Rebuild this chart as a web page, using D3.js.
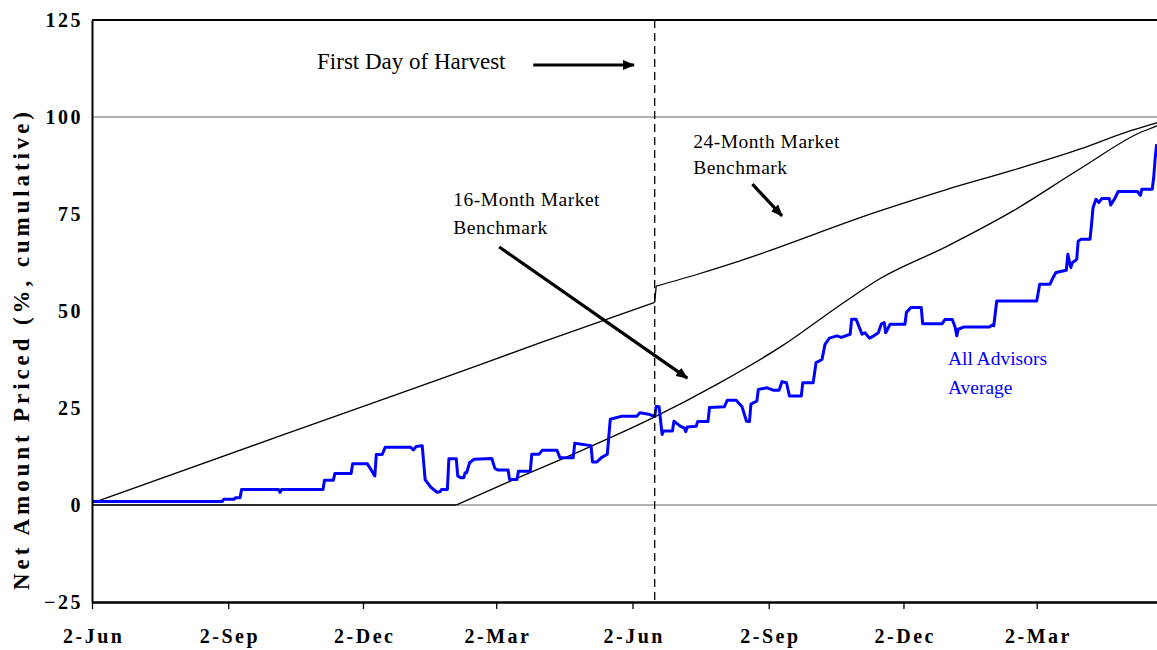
<!DOCTYPE html>
<html><head><meta charset="utf-8">
<script src="https://cdn.jsdelivr.net/npm/d3@7"></script>
<style>
body{margin:0;background:#fff;}
svg{display:block;}
</style></head><body>
<svg id="chart" width="1157" height="650"></svg>
<script>
// ---------- data ----------
const yTicks = [-25, 0, 25, 50, 75, 100, 125];
const gridValues = [0, 100];
const xTickDates = ["2001-06-02","2001-09-02","2001-12-02","2002-03-02","2002-06-02","2002-09-02","2002-12-02","2003-03-02"];
const xTickLabels = ["2-Jun","2-Sep","2-Dec","2-Mar","2-Jun","2-Sep","2-Dec","2-Mar"];
const harvestDate = "2002-06-17";

const advisorDates = ["2001-06-02","2001-08-29","2001-08-30","2001-09-06","2001-09-07","2001-09-10","2001-09-11","2001-10-06","2001-10-07","2001-10-08",
"2001-11-05","2001-11-06","2001-11-12","2001-11-13","2001-11-24","2001-11-25","2001-12-05","2001-12-10","2001-12-11","2001-12-15",
"2001-12-17","2002-01-03","2002-01-05","2002-01-07","2002-01-11","2002-01-13","2002-01-15","2002-01-17","2002-01-21","2002-01-23",
"2002-01-24","2002-01-28","2002-01-29","2002-02-03","2002-02-04","2002-02-06","2002-02-08","2002-02-09","2002-02-10","2002-02-12",
"2002-02-15","2002-02-27","2002-03-01","2002-03-03","2002-03-10","2002-03-11","2002-03-16","2002-03-17","2002-03-25","2002-03-26",
"2002-03-31","2002-04-02","2002-04-12","2002-04-14","2002-04-23","2002-04-24","2002-05-05","2002-05-06","2002-05-09","2002-05-12",
"2002-05-16","2002-05-18","2002-05-26","2002-06-05","2002-06-07","2002-06-13","2002-06-17","2002-06-18","2002-06-20","2002-06-22",
"2002-06-23","2002-06-29","2002-06-30","2002-07-04","2002-07-07","2002-07-08","2002-07-09","2002-07-15","2002-07-16","2002-07-23",
"2002-07-24","2002-08-03","2002-08-05","2002-08-11","2002-08-15","2002-08-18","2002-08-20","2002-08-21","2002-08-25","2002-08-26",
"2002-09-01","2002-09-05","2002-09-09","2002-09-11","2002-09-14","2002-09-16","2002-09-24","2002-09-25","2002-10-02","2002-10-04",
"2002-10-08","2002-10-10","2002-10-13","2002-10-18","2002-10-21","2002-10-27","2002-10-28","2002-10-31","2002-11-04","2002-11-06",
"2002-11-09","2002-11-12","2002-11-15","2002-11-17","2002-11-19","2002-11-20","2002-11-23","2002-12-03","2002-12-04","2002-12-07",
"2002-12-14","2002-12-15","2002-12-28","2002-12-30","2003-01-04","2003-01-06","2003-01-07","2003-01-08","2003-01-12","2003-01-29",
"2003-01-31","2003-02-01","2003-02-03","2003-03-02","2003-03-04","2003-03-11","2003-03-13","2003-03-15","2003-03-22","2003-03-23",
"2003-03-25","2003-03-26","2003-03-29","2003-03-30","2003-04-01","2003-04-07","2003-04-08","2003-04-09","2003-04-11","2003-04-13",
"2003-04-15","2003-04-20","2003-04-21","2003-04-24","2003-04-26","2003-05-09","2003-05-11","2003-05-12","2003-05-19","2003-05-20",
"2003-05-21","2003-05-22"];
const advisorValues = [0.9,0.9,1.5,1.5,1.9,1.9,4.0,4.0,3.3,4.0,
4.0,6.4,6.4,8.1,8.1,10.6,10.6,7.5,13.0,13.0,
14.9,14.9,14.2,15.1,15.3,6.5,5.5,4.5,3.3,3.4,
4.0,4.0,11.9,11.9,7.5,7.0,7.0,8.3,8.3,10.9,
11.8,12.0,9.5,9.0,9.0,6.6,6.6,8.7,8.7,13.1,
13.1,14.1,14.1,12.2,12.2,15.9,15.3,11.1,11.1,12.2,
13.1,22.1,22.9,22.9,23.8,23.4,22.8,25.4,25.3,18.2,
19.1,19.1,21.6,20.4,19.8,18.9,20.1,20.3,21.5,21.5,
25.1,25.3,27.0,27.0,25.3,21.6,21.5,26.0,26.8,29.8,
30.2,29.6,29.6,31.8,31.5,28.1,28.1,31.5,31.5,36.7,
37.5,41.4,43.0,43.6,43.2,44.0,47.9,47.9,44.0,44.4,
43.0,43.6,44.4,46.6,47.0,44.4,46.6,46.6,49.6,50.9,
50.9,46.7,46.7,47.8,47.8,45.7,43.6,45.3,45.9,45.9,
46.4,46.2,52.6,52.6,56.9,56.9,58.6,59.9,60.5,64.6,
61.2,62.4,63.3,68.0,68.5,68.5,72.3,76.6,78.8,78.0,
79.0,79.0,77.3,79.2,80.8,80.8,79.8,81.4,81.4,84.4,
89.5,93.0];

const bench24Dates = ["2001-06-02","2001-10-07","2002-01-22","2002-03-31","2002-06-17","2002-06-18","2002-07-17","2002-08-11","2002-11-16","2002-12-31","2003-02-14","2003-03-31","2003-05-03","2003-05-22","2003-05-31"];
const bench24Values = [0.5,17.8,32.3,41.7,52.2,56.4,59.6,62.6,75.8,81.3,86.3,91.7,96.3,98.5,99.6];

const bench16Dates = ["2001-06-02","2002-02-03","2002-03-16","2002-04-23","2002-06-16","2002-07-29","2002-09-11","2002-10-22","2002-11-16","2002-12-31","2003-02-14","2003-03-31","2003-05-12","2003-05-22","2003-05-31"];
const bench16Values = [0,0,6.9,13.1,22.5,31.1,41.0,52.0,58.3,66.6,75.8,86.6,96.2,97.7,99.6];

const noteTexts  = ["First Day of Harvest","24-Month Market","Benchmark","16-Month Market","Benchmark","All Advisors","Average"];
const noteDates  = ["2001-11-01","2002-07-13","2002-07-13","2002-02-01","2002-02-01","2003-01-01","2003-01-01"];
const noteValues = [112.3, 92.1, 85.2, 77.1, 69.8, 36.1, 28.5];

const arrowFromDates  = ["2002-03-27","2002-08-22","2002-03-04"];
const arrowFromValues = [113.4, 82.7, 66.5];
const arrowToDates    = ["2002-06-03","2002-09-11","2002-07-09"];
const arrowToValues   = [113.4, 74.5, 32.7];

// ---------- chart ----------
const parse = d3.utcParse("%Y-%m-%d");
const serif = "'Liberation Serif','Times New Roman',serif";
const svg = d3.select("#chart");

const x = d3.scaleUtc().domain([parse("2001-06-02"), parse("2003-05-31")]).range([92, 1170]);
const y = d3.scaleLinear().domain([-25, 125]).range([602, 20]);
const [x0, x1] = x.range();

// gridlines
svg.selectAll("line.grid").data(gridValues).join("line")
  .attr("class","grid").attr("x1",x0).attr("x2",x1)
  .attr("y1",d=>y(d)).attr("y2",d=>y(d))
  .attr("stroke","#9a9a9a").attr("stroke-width",1.5);

// top border
svg.append("line").attr("x1",x0).attr("x2",x1).attr("y1",y(125)).attr("y2",y(125))
  .attr("stroke","#000").attr("stroke-width",2);

const zipS = (ds, vs) => ds.map((d,i)=>[parse(d), vs[i]]);
const smooth = d3.line().x(d=>x(d[0])).y(d=>y(d[1])).curve(d3.curveMonotoneX);
const straight = d3.line().x(d=>x(d[0])).y(d=>y(d[1]));
const hDate = parse(harvestDate);

// benchmark lines: smooth pieces joined by straight segments at the kinks
function drawBench(pts, splitIdx) {
  const g = svg.append("g").attr("fill","none").attr("stroke","#000").attr("stroke-width",1.3);
  const a = pts.slice(0, splitIdx + 1), b = pts.slice(splitIdx + 1);
  g.append("path").attr("d", smooth(a));
  g.append("path").attr("d", straight([a[a.length-1], b[0]]));
  g.append("path").attr("d", smooth(b));
}
const b24 = zipS(bench24Dates, bench24Values);
drawBench(b24, b24.findIndex(d => +d[0] === +hDate));
const b16 = zipS(bench16Dates, bench16Values);
const lastZero = b16.reduce((k,d,i)=> d[1] === 0 ? i : k, 0);
{
  const g = svg.append("g").attr("fill","none").attr("stroke","#000").attr("stroke-width",1.3);
  g.append("path").attr("d", straight(b16.slice(0, lastZero + 1)));
  g.append("path").attr("d", smooth(b16.slice(lastZero)));
}

svg.append("path").datum(zipS(advisorDates, advisorValues)).attr("d",straight)
  .attr("fill","none").attr("stroke","#0000ff").attr("stroke-width",3).attr("stroke-linejoin","round");

// harvest dashed line
svg.append("line").attr("x1",x(hDate)).attr("x2",x(hDate))
  .attr("y1",y(125)).attr("y2",y(-25))
  .attr("stroke","#000").attr("stroke-width",1.3).attr("stroke-dasharray","8,5");

// axes
const yAxis = svg.append("g").attr("transform",`translate(${x0},0)`)
  .call(d3.axisLeft(y).tickValues(yTicks).tickSize(0).tickPadding(9));
yAxis.attr("font-family",serif).attr("font-size",20).attr("font-weight","bold");
yAxis.select(".domain").attr("stroke","#000").attr("stroke-width",2);
yAxis.selectAll("text").attr("letter-spacing",2.5).attr("fill","#000");

const xAxis = svg.append("g").attr("transform",`translate(0,${y(-25)})`)
  .call(d3.axisBottom(x).tickValues(xTickDates.map(parse)).tickFormat((d,i)=>xTickLabels[i])
    .tickSizeInner(7).tickSizeOuter(0));
xAxis.attr("font-family",serif).attr("font-size",20).attr("font-weight","bold");
xAxis.select(".domain").attr("stroke","#000").attr("stroke-width",2.5);
xAxis.selectAll(".tick line").attr("stroke","#000").attr("stroke-width",1.3);
xAxis.selectAll("text").attr("dy",null).attr("y",41).attr("dx",1.25).attr("letter-spacing",2.5).attr("fill","#000");

// y title
svg.append("text").attr("transform","translate(29,351) rotate(-90)")
  .attr("text-anchor","middle").attr("font-family",serif).attr("font-weight","bold")
  .attr("font-size",23).attr("textLength",478).attr("lengthAdjust","spacing")
  .text("Net Amount Priced (%, cumulative)");

// annotations
const noteSizes = [23,19.5,19.5,19.5,19.5,19.5,19.5];
const noteColors = ["#000","#000","#000","#000","#000","#0000ff","#0000ff"];
svg.selectAll("text.note").data(noteTexts).join("text").attr("class","note")
  .attr("x",(d,i)=>x(parse(noteDates[i]))).attr("y",(d,i)=>y(noteValues[i]))
  .attr("font-family",serif).attr("font-size",(d,i)=>noteSizes[i])
  .attr("letter-spacing",(d,i)=> i>0 && i<5 ? 0.5 : 0)
  .attr("fill",(d,i)=>noteColors[i]).text(d=>d);

const defs = svg.append("defs");
defs.append("marker").attr("id","ah").attr("markerUnits","userSpaceOnUse")
  .attr("markerWidth",12).attr("markerHeight",10).attr("refX",11).attr("refY",5)
  .attr("orient","auto").append("path").attr("d","M0,0L12,5L0,10Z").attr("fill","#000");

svg.selectAll("line.arrow").data(arrowFromDates).join("line").attr("class","arrow")
  .attr("x1",(d,i)=>x(parse(arrowFromDates[i]))).attr("y1",(d,i)=>y(arrowFromValues[i]))
  .attr("x2",(d,i)=>x(parse(arrowToDates[i]))).attr("y2",(d,i)=>y(arrowToValues[i]))
  .attr("stroke","#000").attr("stroke-width",3.2).attr("marker-end","url(#ah)");
</script>
</body></html>
